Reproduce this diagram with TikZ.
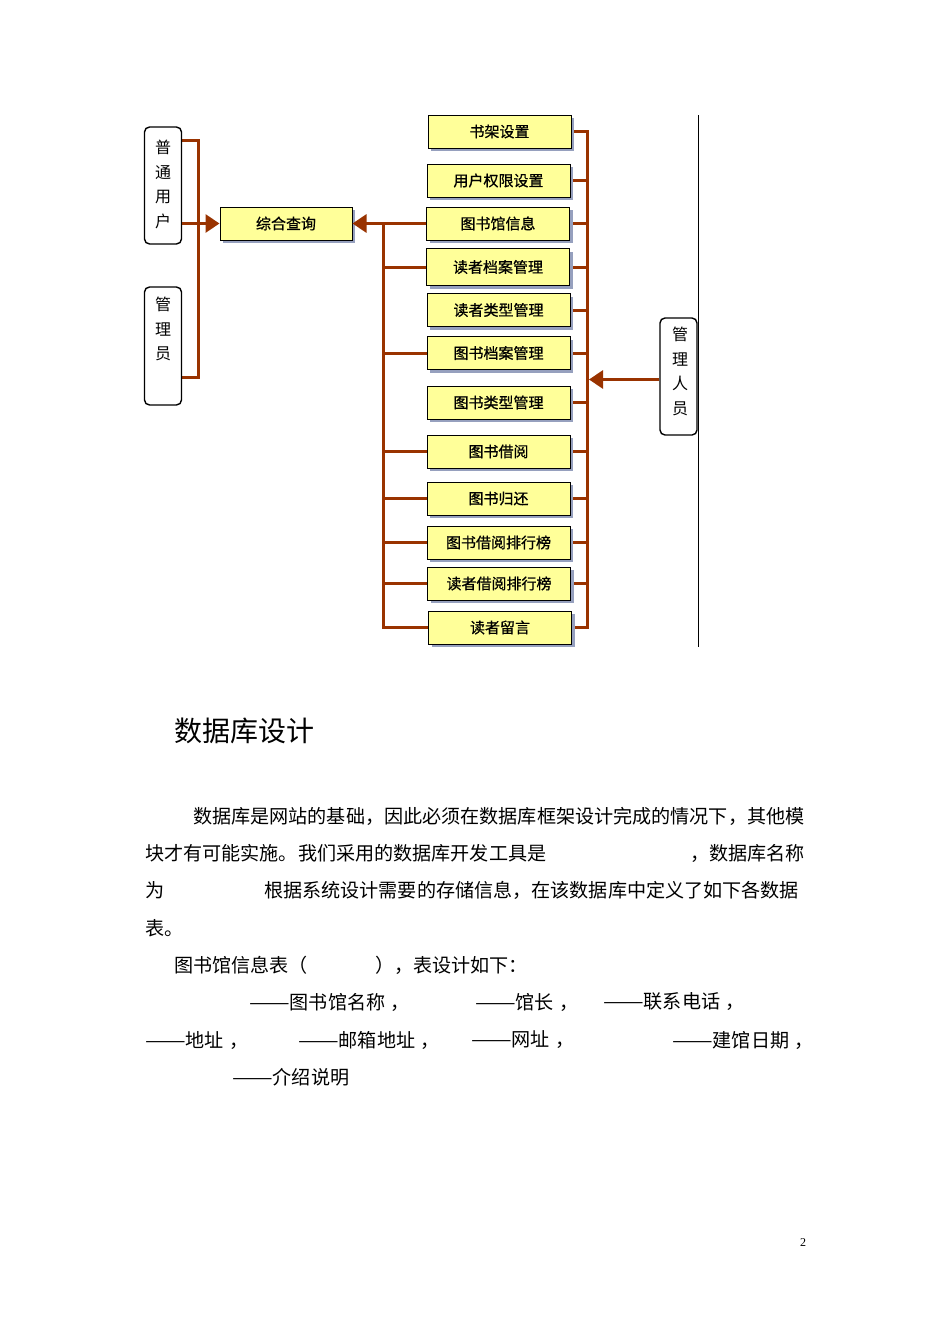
\documentclass[tikz,border=0pt]{standalone}
\usepackage{fontspec}
\usepackage{graphicx}
\setmainfont{Liberation Serif}
\newfontfamily\cjk{Noto Sans CJK SC}
\newfontfamily\cjkb[FakeBold=0.8]{Noto Sans CJK SC}
\usetikzlibrary{arrows.meta,shadows}
\definecolor{brn}{RGB}{153,51,0}
\definecolor{ylw}{RGB}{255,255,153}
\definecolor{shd}{RGB}{150,160,190}
\pgfdeclarelayer{bg}
\pgfdeclarelayer{paper}
\pgfsetlayers{paper,bg,main}
\tikzset{
 mod/.style={draw=black, line width=1pt, fill=ylw, minimum width=143pt, minimum height=33pt, inner sep=0pt,
   font=\cjkb\fontsize{15}{15}\selectfont,
   drop shadow={shadow xshift=3pt, shadow yshift=-3pt, fill=shd, opacity=1}},
 actor/.style={draw=black, line width=1.4pt, rounded corners=5pt, fill=white, minimum width=37pt, minimum height=117pt, inner sep=0pt},
 vtext/.style={font=\cjk\fontsize{16}{24.5}\selectfont, align=center, inner sep=0pt},
 conn/.style={draw=brn, line width=3pt},
 arr/.style={conn, -{Triangle[length=14pt,width=18pt]}},
 body/.style={anchor=west, inner sep=0pt, font=\cjk\fontsize{19.1}{19.1}\selectfont},
}
\newcommand{\dd}{\scalebox{1.27}[1]{——}}
\begin{document}
\begin{tikzpicture}[x=1pt,y=-1pt]
\useasboundingbox (0,0) rectangle (950,1344);
\begin{pgfonlayer}{paper}
\fill[white] (0,0) rectangle (950,1344);
\end{pgfonlayer}

% actors
\node[actor] (u) at (163,185.5) {};
\node[vtext] (ut) at (163,184.5) {普\\通\\用\\户};
\node[actor, minimum height=118pt] (a) at (163,346) {};
\node[vtext] (at) at (163,329) {管\\理\\员};
\node[actor] (m) at (678.5,376.5) {};
\node[vtext] (mt0) at (680,371.5) {管\\理\\人\\员};

% modules
\node[mod, minimum width=132pt] (q) at (286,223.5) {综合查询};
\node[mod] (shujia) at (499.5,131.5) {书架设置};
\node[mod] (yonghu) at (498.5,180.5) {用户权限设置};
\node[mod] (info) at (498,223.5) {图书馆信息};
\node[mod, minimum height=37pt] (dzda) at (498,267) {读者档案管理};
\node[mod] (dzlx) at (498.5,310) {读者类型管理};
\node[mod] (tsda) at (498.5,353) {图书档案管理};
\node[mod] (tslx) at (498.5,402.5) {图书类型管理};
\node[mod] (jy) at (498.5,451.5) {图书借阅};
\node[mod] (gh) at (498.5,498.5) {图书归还};
\node[mod] (jyph) at (498.5,542.5) {图书借阅排行榜};
\node[mod] (dzph) at (499,583.5) {读者借阅排行榜};
\node[mod] (ly) at (500,627.5) {读者留言};

\coordinate (lt) at (198,140);
\coordinate (lb) at (198,377);
\coordinate (mtop) at (383,223.5);
\coordinate (rtop) at (587,131.5);
\coordinate (ra) at (589,379.5);

\begin{pgfonlayer}{bg}
\draw[conn] (u.east |- lt) -- (lt) -- (lb) -- (a.east |- lb);
\draw[conn] (mtop) -- (mtop |- ly.west) -- (ly.west);
\foreach \n in {dzda,tsda,jy,gh,jyph,dzph} \draw[conn] (mtop |- \n.west) -- (\n.west);
\draw[conn] (shujia.east) -- (rtop |- shujia.east) -- (rtop |- ly.east) -- (ly.east);
\foreach \n in {yonghu,info,dzda,dzlx,tsda,tslx,jy,gh,jyph,dzph} \draw[conn] (\n.east) -- (rtop |- \n.east);
\end{pgfonlayer}
\draw[arr] (u.east |- q.west) -- (q.west);
\draw[arr] (info.west) -- (q.east);
\draw[arr] (m.west |- ra) -- (ra);

\draw[line width=1pt] (698,115) -- (698,647);

% text
\node[anchor=west, inner sep=0pt, font=\cjk\fontsize{28}{28}\selectfont] (h) at (174,731) {数据库设计};
\node[body] (l1) at (193,816) {数据库是网站的基础，因此必须在数据库框架设计完成的情况下，其他模};
\node[body] (l2a) at (145,853) {块才有可能实施。我们采用的数据库开发工具是};
\node[body] (l2b) at (690,853) {，数据库名称};
\node[body] (l3a) at (145,890) {为};
\node[body] (l3b) at (264,890) {根据系统设计需要的存储信息，在该数据库中定义了如下各数据};
\node[body] (l4) at (145,928) {表。};
\node[body] (l5a) at (174,965) {图书馆信息表（};
\node[body] (l5b) at (375,965) {），表设计如下：};
\node[body] (l6a) at (249,1002) {\dd 图书馆名称\kern5pt，};
\node[body] (l6b) at (475,1002) {\dd 馆长\kern5pt，};
\node[body] (l6c) at (603,1002) {\dd 联系电话\kern5pt，};
\node[body] (l7a) at (145,1040) {\dd 地址\kern5pt，};
\node[body] (l7b) at (298,1040) {\dd 邮箱地址\kern5pt，};
\node[body] (l7c) at (471,1040) {\dd 网址\kern5pt，};
\node[body] (l7d) at (672,1040) {\dd 建馆日期\kern5pt，};
\node[body] (l8) at (232,1077) {\dd 介绍说明};
\node[inner sep=0pt, font=\fontsize{12}{12}\selectfont] (pg) at (803,1243) {2};
\end{tikzpicture}
\end{document}
